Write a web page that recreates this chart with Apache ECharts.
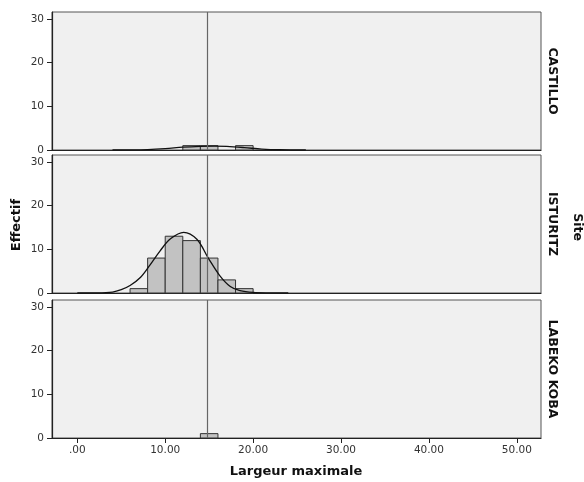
<!DOCTYPE html>
<html>
<head>
<meta charset="utf-8">
<script src="https://cdn.jsdelivr.net/npm/echarts@6/dist/echarts.min.js"></script>
<style>html,body{margin:0;padding:0;background:#fff}#c{width:584px;height:482px}</style>
</head>
<body>
<div id="c"></div>
<script>
const xTicks = [0, 10, 20, 30, 40, 50];
const yTicks = [0, 10, 20, 30];
const sites = ['CASTILLO', 'ISTURITZ', 'LABEKO KOBA'];
// bins: [start, end, count]
const castilloBins = [[12, 14, 1], [14, 16, 1], [18, 20, 1]];
const isturitzBins = [[6, 8, 1], [8, 10, 8], [10, 12, 13], [12, 14, 12], [14, 16, 8], [16, 18, 3], [18, 20, 1]];
const labekoBins = [[14, 16, 1]];
// fitted normal curves: [x, y]
const castilloCurve = [[4, 0], [8, 0.1], [10, 0.3], [12, 0.65], [14, 0.85], [15.6, 0.9], [17, 0.82], [19, 0.55], [21, 0.22], [23, 0.06], [26, 0]];
const isturitzCurve = [[0, 0], [2, 0.02], [4, 0.2], [5, 0.75], [6, 1.7], [7.2, 3.6], [8.3, 6.5], [9.4, 9.6], [10.6, 12.4], [12.1, 13.9], [13.6, 12.3], [14.9, 8.0], [16.2, 4.0], [17.4, 1.5], [18.5, 0.55], [20, 0.12], [22, 0.02], [24, 0]];
const labekoCurve = [];
const refLine = 14.8;
const xMin = -2.88, xMax = 52.75, yMax = 31.6;

const binsAll = [castilloBins, isturitzBins, labekoBins];
const curvesAll = [castilloCurve, isturitzCurve, labekoCurve];

const chart = echarts.init(document.getElementById('c'), null, {renderer: 'canvas'});
const FONT = 'DejaVu Sans';
const tops = [12, 155, 300];
const H = 138;

const grids = tops.map(t => ({
  left: 52, right: 43, top: t, height: H,
  show: true, backgroundColor: '#f0f0f0', borderColor: '#555', borderWidth: 1
}));

const xAxes = tops.map((t, i) => ({
  type: 'value', gridIndex: i, min: xMin, max: xMax,
  splitLine: {show: false},
  axisLine: {show: true, onZero: false, lineStyle: {color: '#222', width: 1.2}},
  axisTick: {show: i === 2, length: 5, customValues: xTicks, lineStyle: {color: '#222'}},
  axisLabel: {show: i === 2, customValues: xTicks, color: '#333', fontFamily: FONT, fontSize: 10.5, margin: 7,
    formatter: v => v.toFixed(2).replace(/^0\./, '.')}
}));

const yAxes = tops.map((t, i) => ({
  type: 'value', gridIndex: i, min: 0, max: yMax,
  splitLine: {show: false},
  axisLine: {show: true, onZero: false, lineStyle: {color: '#222', width: 1.2}},
  axisTick: {show: true, length: 5, customValues: yTicks, lineStyle: {color: '#222'}},
  axisLabel: {show: true, customValues: yTicks, color: '#333', fontFamily: FONT, fontSize: 10.5, margin: 8}
}));

const series = [];
binsAll.forEach((bins, i) => {
  series.push({
    type: 'custom', xAxisIndex: i, yAxisIndex: i, data: bins, z: 2,
    renderItem: (params, api) => {
      const p0 = api.coord([api.value(0), api.value(2)]);
      const p1 = api.coord([api.value(1), 0]);
      return {type: 'rect', shape: {x: p0[0], y: p0[1], width: p1[0] - p0[0], height: p1[1] - p0[1]},
        style: {fill: '#c2c2c2', stroke: '#333', lineWidth: 1}};
    },
    encode: {x: [0, 1], y: 2},
    markLine: {
      silent: true, symbol: 'none', label: {show: false},
      lineStyle: {color: '#666', width: 1.2, type: 'solid'},
      data: [{xAxis: refLine}]
    }
  });
  if (curvesAll[i].length) {
    series.push({
      type: 'line', xAxisIndex: i, yAxisIndex: i, data: curvesAll[i], smooth: 0.35,
      showSymbol: false, z: 3, lineStyle: {color: '#111', width: 1.3}
    });
  }
});

const graphics = [];
sites.forEach((s, i) => {
  graphics.push({
    type: 'text', x: 552, y: tops[i] + H / 2, rotation: -Math.PI / 2,
    style: {text: s, fill: '#111', font: 'bold 12.5px "DejaVu Sans"', align: 'center', verticalAlign: 'middle'}
  });
});
graphics.push({type: 'text', x: 577, y: 227, rotation: -Math.PI / 2,
  style: {text: 'Site', fill: '#111', font: 'bold 12.5px "DejaVu Sans"', align: 'center', verticalAlign: 'middle'}});
graphics.push({type: 'text', x: 17, y: 225, rotation: Math.PI / 2,
  style: {text: 'Effectif', fill: '#111', font: 'bold 13px "DejaVu Sans"', align: 'center', verticalAlign: 'middle'}});
graphics.push({type: 'text', x: 296, y: 472,
  style: {text: 'Largeur maximale', fill: '#111', font: 'bold 13px "DejaVu Sans"', align: 'center', verticalAlign: 'middle'}});

chart.setOption({
  animation: false,
  grid: grids, xAxis: xAxes, yAxis: yAxes, series: series, graphic: graphics
});
</script>
</body>
</html>
